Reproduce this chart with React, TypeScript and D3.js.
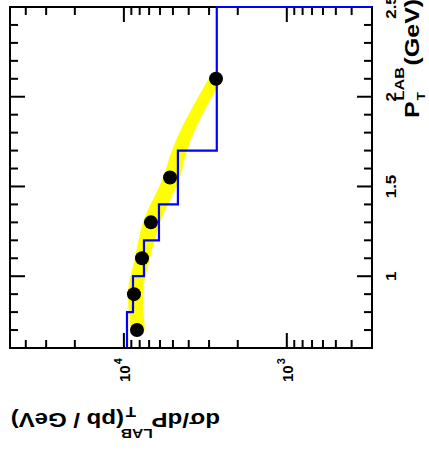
import React, { useEffect, useRef } from "react";
import * as d3 from "d3";

// transverse momentum bins of the MC histogram (GeV)
const binEdges = [0.6, 0.8, 1.0, 1.2, 1.4, 1.7, 2.5];
const histValues = [9570, 8790, 7530, 6090, 4660, 2690];

// measured points
const ptPoints = [0.7, 0.9, 1.1, 1.3, 1.55, 2.1];
const xsecPoints = [8310, 8670, 7740, 6820, 5210, 2720];

// yellow uncertainty band
const bandPt = [0.7, 0.9, 1.1, 1.3, 1.55, 1.7, 2.1];
const bandHi = [9050, 9440, 8550, 7630, 5750, 5070, 3020];
const bandLo = [7420, 7630, 6920, 6000, 4530, 4100, 2500];

const ptLabels = ["1", "1.5", "2", "2.5"];
const xsecLabels = [
  { base: "10", exp: "4", value: 1e4 },
  { base: "10", exp: "3", value: 1e3 },
];

const FONT = "'Liberation Sans', Arial, Helvetica, sans-serif";

export default function App() {
  const ref = useRef<SVGSVGElement | null>(null);

  useEffect(() => {
    const width = 429;
    const height = 459;
    const left = 10, right = 372, top = 7, bottom = 348;

    const svg = d3.select(ref.current);
    svg.selectAll("*").remove();
    svg.attr("width", width).attr("height", height);

    // rotated plot: cross section runs horizontally (log, decreasing to the right),
    // pT runs upward
    const x = d3.scaleLog().domain([50000, 300]).range([left, right]);
    const y = d3.scaleLinear().domain([0.6, 2.5]).range([bottom, top]);

    svg.append("rect")
      .attr("width", width).attr("height", height)
      .attr("fill", "#ffffff");

    // band
    const band = d3.area<number>()
      .y((d, i) => y(bandPt[i]))
      .x0((d, i) => x(bandLo[i]))
      .x1((d, i) => x(bandHi[i]))
      .curve(d3.curveMonotoneY);
    svg.append("path")
      .attr("d", band(bandPt))
      .attr("fill", "#ffff00");

    // frame
    svg.append("rect")
      .attr("x", left).attr("y", top)
      .attr("width", right - left).attr("height", bottom - top)
      .attr("fill", "none")
      .attr("stroke", "#000")
      .attr("stroke-width", 2);

    // ticks on pT axis (left and right edges)
    const ptTicks = d3.range(7, 26).map((d) => d / 10);
    ptTicks.forEach((t) => {
      const major = Math.abs(t * 2 - Math.round(t * 2)) < 1e-6;
      const len = major ? 15 : 8;
      svg.append("line")
        .attr("x1", left).attr("x2", left + len)
        .attr("y1", y(t)).attr("y2", y(t))
        .attr("stroke", "#000").attr("stroke-width", 2);
      svg.append("line")
        .attr("x1", right).attr("x2", right - len)
        .attr("y1", y(t)).attr("y2", y(t))
        .attr("stroke", "#000").attr("stroke-width", 2);
    });

    // ticks on cross section axis (top and bottom edges)
    const logTicks = x.ticks().filter((t) => t >= 300 && t <= 50000);
    logTicks.forEach((t) => {
      const major = Math.abs(Math.log10(t) - Math.round(Math.log10(t))) < 1e-9;
      const len = major ? 15 : 8;
      svg.append("line")
        .attr("x1", x(t)).attr("x2", x(t))
        .attr("y1", top).attr("y2", top + len)
        .attr("stroke", "#000").attr("stroke-width", 2);
      svg.append("line")
        .attr("x1", x(t)).attr("x2", x(t))
        .attr("y1", bottom).attr("y2", bottom - len)
        .attr("stroke", "#000").attr("stroke-width", 2);
    });

    // histogram outline
    const histPts: [number, number][] = [[x.domain()[1], binEdges[0]]];
    histValues.forEach((v, i) => {
      histPts.push([v, binEdges[i]]);
      histPts.push([v, binEdges[i + 1]]);
    });
    histPts.push([x.domain()[1], binEdges[binEdges.length - 1]]);
    const histLine = d3.line<[number, number]>()
      .x((d) => x(d[0]))
      .y((d) => y(d[1]));
    svg.append("path")
      .attr("d", histLine(histPts))
      .attr("fill", "none")
      .attr("stroke", "#0000ff")
      .attr("stroke-width", 2.2);

    // bottom edge redrawn on top of histogram baseline
    svg.append("line")
      .attr("x1", left).attr("x2", right)
      .attr("y1", bottom).attr("y2", bottom)
      .attr("stroke", "#000").attr("stroke-width", 2);

    // data points
    svg.append("g")
      .selectAll("circle")
      .data(ptPoints)
      .join("circle")
      .attr("cx", (d, i) => x(xsecPoints[i]))
      .attr("cy", (d) => y(d))
      .attr("r", 7)
      .attr("fill", "#000");

    // pT tick labels
    ptLabels.forEach((lab) => {
      svg.append("text")
        .attr("transform", `translate(396,${y(+lab)}) rotate(-90) scale(1.12,1)`)
        .attr("text-anchor", "middle")
        .attr("font-family", FONT)
        .attr("font-weight", "bold")
        .attr("font-size", 15)
        .text(lab);
    });

    // cross section tick labels
    xsecLabels.forEach((lab) => {
      const t = svg.append("text")
        .attr("transform", `translate(${x(lab.value) + 6},382) rotate(-90)`)
        .attr("font-family", FONT)
        .attr("font-weight", "bold")
        .attr("font-size", 15);
      t.append("tspan").text(lab.base);
      t.append("tspan").attr("dy", -8).attr("dx", 1).attr("font-size", 11).text(lab.exp);
    });

    // pT axis title
    const gp = svg.append("g")
      .attr("transform", "translate(419,118) rotate(-90) scale(1.25,1)")
      .attr("font-family", FONT)
      .attr("font-weight", "bold");
    gp.append("text").attr("font-size", 20).text("P");
    gp.append("text").attr("x", 14).attr("y", 6).attr("font-size", 11).text("T");
    gp.append("text").attr("x", 14).attr("y", -15).attr("font-size", 13).text("LAB");
    gp.append("text").attr("x", 42).attr("font-size", 20).text("(GeV)");

    // cross section axis title (upside down)
    const gx = svg.append("g")
      .attr("transform", "translate(220,413) rotate(180) scale(1.2,1)")
      .attr("font-family", FONT)
      .attr("font-weight", "bold");
    gx.append("text").attr("font-size", 20).text("d\u03c3/dP");
    gx.append("text").attr("x", 56).attr("y", -16).attr("font-size", 13).text("LAB");
    gx.append("text").attr("x", 70).attr("y", 6).attr("font-size", 14).text("T");
    gx.append("text").attr("x", 80).attr("font-size", 20).text("(pb / GeV)");
  }, []);

  return (
    <svg
      ref={ref}
      style={{ position: "absolute", left: 0, top: 0 }}
      width={429}
      height={459}
    />
  );
}
